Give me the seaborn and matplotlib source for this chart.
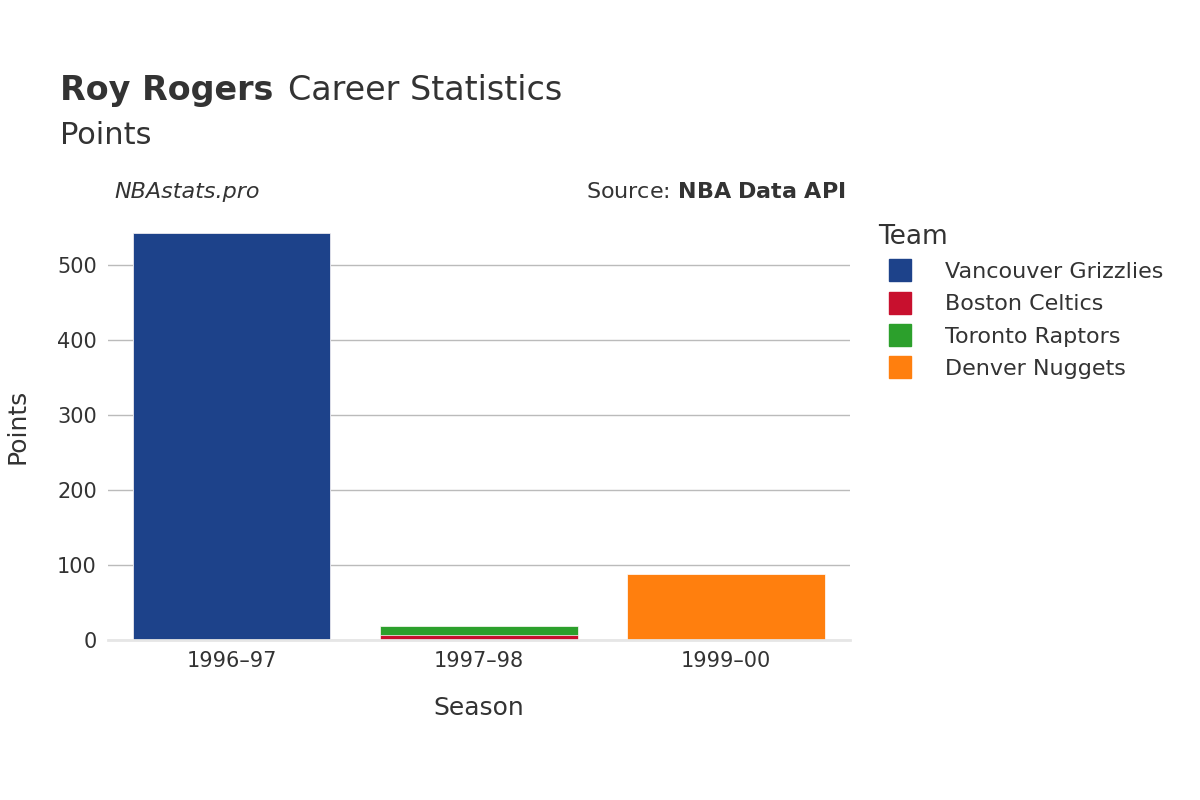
import matplotlib
matplotlib.use("Agg")
import matplotlib.pyplot as plt
import seaborn as sns
import pandas as pd
import numpy as np
from matplotlib.lines import Line2D

seasons = ["1996–97", "1997–98", "1999–00"]
teams = ["Vancouver Grizzlies", "Boston Celtics", "Toronto Raptors", "Denver Nuggets"]
colors = ["#1d428a", "#c8102e", "#2ca02c", "#ff7f0e"]
vancouver = [542, 0, 0]
boston = [0, 7, 0]
toronto = [0, 12, 0]
denver = [0, 0, 88]
series = [vancouver, boston, toronto, denver]

plt.rcParams["font.family"] = "DejaVu Sans"
fig = plt.figure(figsize=(12, 8), dpi=100)
ax = fig.add_axes([0.09, 0.2, 0.618, 0.535])

cum = np.cumsum(np.array(series), axis=0)
# draw topmost layers first so lower layers overlay them
for i in reversed(range(len(teams))):
    df = pd.DataFrame({"Season": seasons, "Points": cum[i]})
    sns.barplot(data=df, x="Season", y="Points", color=colors[i], width=0.8,
                saturation=1, ax=ax, edgecolor="white", linewidth=0.5)

ax.set_ylim(0, 570)
ax.set_yticks([0, 100, 200, 300, 400, 500])
ax.yaxis.grid(True, color="#bbbbbb", linewidth=1)
ax.set_axisbelow(True)
for s in ["top", "right", "left"]:
    ax.spines[s].set_visible(False)
ax.spines["bottom"].set_color("#e6e6e6")
ax.spines["bottom"].set_linewidth(2)
ax.tick_params(axis="both", length=0, labelsize=15, colors="#333333", pad=8)
ax.set_xlabel("Season", fontsize=18, color="#333333", labelpad=18)
ax.set_ylabel("Points", fontsize=18, color="#333333", labelpad=20)

fig.text(0.05, 0.875, "Roy Rogers", fontsize=24, weight="bold", color="#333333")
fig.text(0.24, 0.875, "Career Statistics", fontsize=24, color="#333333")
fig.text(0.05, 0.82, "Points", fontsize=22, color="#333333")
fig.text(0.095, 0.752, "NBAstats.pro", fontsize=16, style="italic", color="#333333")
fig.text(0.705, 0.752, "Source: $\\bf{NBA\\ Data\\ API}$", fontsize=16, color="#333333", ha="right")

handles = [Line2D([0], [0], marker="s", linestyle="", markersize=16,
                  markerfacecolor=c, markeredgecolor=c) for c in colors]
leg = fig.legend(handles, teams, loc="upper left", bbox_to_anchor=(0.715, 0.745),
                 frameon=False, fontsize=16, title="Team", title_fontsize=19,
                 labelcolor="#333333", handletextpad=1.0, labelspacing=0.55)
leg._legend_box.align = "left"
leg.get_title().set_color("#333333")

fig.savefig("out.png", dpi=100, facecolor="white")
